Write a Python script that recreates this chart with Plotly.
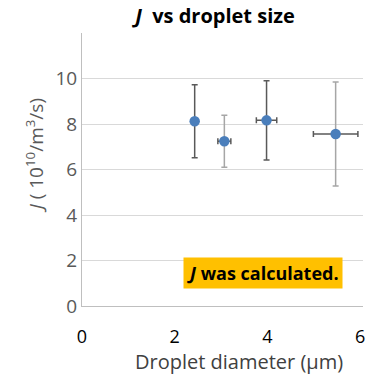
import plotly.graph_objects as go

diameter = [2.43, 3.07, 3.98, 5.47]
diameter_err = [0.04, 0.14, 0.22, 0.48]
J = [8.12, 7.24, 8.16, 7.56]
J_err = [1.6, 1.14, 1.74, 2.29]
y_ticks = [0, 2, 4, 6, 8, 10, 12]
y_ticktext = ["0", "2", "4", "6", "8", "10", ""]
x_ticks = [0, 2, 4, 6]

# per-point error bar colours (style)
v_col = ["#595959", "#A6A6A6", "#595959", "#A6A6A6"]
h_col = ["#595959", "#595959", "#595959", "#595959"]

fig = go.Figure()
for i in range(len(diameter)):
    fig.add_trace(go.Scatter(
        x=[diameter[i]], y=[J[i]], mode="markers",
        marker=dict(size=10.5, color="#4A7EBB"),
        error_y=dict(type="data", array=[J_err[i]], color=v_col[i], thickness=1.5, width=3),
        error_x=dict(type="data", array=[diameter_err[i]], color=h_col[i], thickness=1.5, width=3),
        showlegend=False,
    ))

font = "Open Sans"
L, R, T, B = 82, 7, 33, 70
W, H = 372, 376
pw, ph = W - L - R, H - T - B


def px(x):
    return (x - L) / pw


def py(y):
    return (H - B - y) / ph


fig.update_layout(
    width=W, height=H,
    margin=dict(l=L, r=R, t=T, b=B),
    paper_bgcolor="white", plot_bgcolor="white",
    title=dict(text="<b><i>J</i>  vs droplet size</b>", x=0.578, xanchor="center", y=0.958, yanchor="middle",
               font=dict(family=font, size=20, color="black")),
    xaxis=dict(range=[0, 6.06], tickvals=x_ticks, showgrid=False, zeroline=False,
               showline=True, linecolor="#BFBFBF", linewidth=1,
               tickfont=dict(family=font, size=18, color="black"), ticks="", ticklabelstandoff=14),
    yaxis=dict(range=[0, 12], tickvals=y_ticks, ticktext=y_ticktext, showgrid=True, gridcolor="#D9D9D9",
               zeroline=False, showline=True, linecolor="#BFBFBF", linewidth=1,
               tickfont=dict(family=font, size=19, color="#595959"), ticks="", ticklabelstandoff=0),
    annotations=[
        dict(x=3.91, y=1.43, xref="x", yref="y", text="<b><i>J</i> was calculated.</b>",
             showarrow=False, bgcolor="#FFC000", font=dict(family=font, size=18, color="black"),
             borderpad=3, xanchor="center", yanchor="middle"),
        dict(x=px(240), y=py(376), xref="paper", yref="paper", text="Droplet diameter (μm)",
             showarrow=False, font=dict(family=font, size=20, color="#404040"),
             xanchor="center", yanchor="bottom", borderpad=0),
        dict(x=px(35), y=py(155), xref="paper", yref="paper",
             text="<i>J</i> ( 10<sup>10</sup>/m<sup>3</sup>/s)", textangle=-90,
             showarrow=False, font=dict(family=font, size=19, color="#595959"),
             xanchor="center", yanchor="middle"),
    ],
)
fig.write_html("out.html")
